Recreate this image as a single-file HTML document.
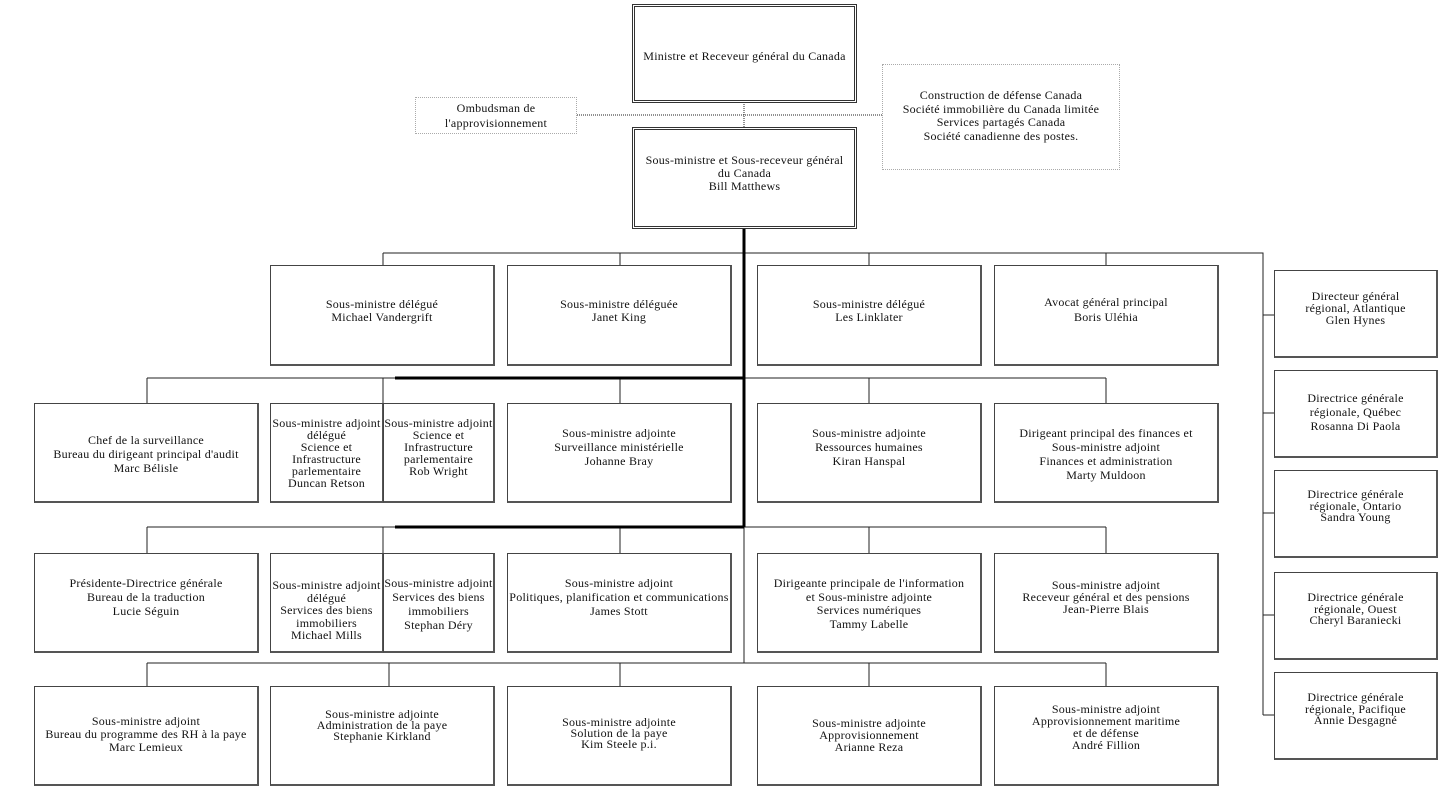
<!DOCTYPE html>
<html><head><meta charset="utf-8"><style>
body{margin:0;background:#fff;width:1455px;height:808px;position:relative;overflow:hidden;font-family:"Liberation Serif",serif;font-size:12px;letter-spacing:0.25px;color:#111}
.b{position:absolute;box-sizing:border-box;border:1px solid #444;border-right:2px solid #555;border-bottom:2px solid #555;background:#fff}
.t{position:absolute;left:-6px;right:-6px;text-align:center;line-height:13px;white-space:nowrap}
.d{position:absolute;box-sizing:border-box;border:1px dotted #aaa;background:#fff}
.dbl{position:absolute;box-sizing:border-box;border:3px double #333;background:#fff}
svg{position:absolute;left:0;top:0}
</style></head><body>
<svg width="1455" height="808">
<g stroke="#222" stroke-width="1" fill="none">
<path d="M744 102V128" stroke-dasharray="1,1"/>
<path d="M577 115H882" stroke-dasharray="1,1"/>
<path d="M383 253H1263V715"/>
<path d="M383 253V265M620 253V265M869 253V265M1106 253V265"/>
<path d="M1263 315H1275M1263 413H1275M1263 513H1275M1263 615H1275M1263 715H1275"/>
<path d="M147 378H1106M147 378V403M383 378V403M620 378V403M869 378V403M1106 378V403"/>
<path d="M147 527H1106M147 527V553M383 527V553M620 527V553M869 527V553M1106 527V553"/>
<path d="M147 663H744M147 663V686M389 663V686M620 663V686M744 663H1106M869 663V686M1106 663V686"/>
<path d="M744 527V663"/>
</g>
<g stroke="#000" stroke-width="3" fill="none">
<path d="M744 228V527"/>
<path d="M395 378H744M395 527H744"/>
</g>
</svg>

<div class="dbl" style="left:632px;top:4px;width:225px;height:99px"><div class="t" style="top:43px">Ministre et Receveur général du Canada</div></div>
<div class="dbl" style="left:632px;top:127px;width:225px;height:102px"><div class="t" style="top:24px">Sous-ministre et Sous-receveur général<br>du Canada<br>Bill Matthews</div></div>
<div class="d" style="left:415px;top:97px;width:162px;height:37px"><div class="t" style="top:3px;line-height:15px">Ombudsman de<br>l'approvisionnement</div></div>
<div class="d" style="left:882px;top:64px;width:238px;height:106px"><div class="t" style="top:24px;line-height:13.5px">Construction de défense Canada<br>Société immobilière du Canada limitée<br>Services partagés Canada<br>Société canadienne des postes.</div></div>

<!-- row1 -->
<div class="b" style="left:270px;top:265px;width:225px;height:101px"><div class="t" style="top:32px">Sous-ministre délégué<br>Michael Vandergrift</div></div>
<div class="b" style="left:507px;top:265px;width:225px;height:101px"><div class="t" style="top:32px">Sous-ministre déléguée<br>Janet King</div></div>
<div class="b" style="left:757px;top:265px;width:225px;height:101px"><div class="t" style="top:32px">Sous-ministre délégué<br>Les Linklater</div></div>
<div class="b" style="left:994px;top:265px;width:225px;height:101px"><div class="t" style="top:29px;line-height:15px">Avocat général principal<br>Boris Uléhia</div></div>

<!-- row2 -->
<div class="b" style="left:34px;top:403px;width:225px;height:100px"><div class="t" style="top:29px;line-height:14px">Chef de la surveillance<br>Bureau du dirigeant principal d'audit<br>Marc Bélisle</div></div>
<div class="b" style="left:270px;top:403px;width:114px;height:100px"><div class="t" style="top:13px;line-height:12px">Sous-ministre adjoint<br>délégué<br>Science et<br>Infrastructure<br>parlementaire<br>Duncan Retson</div></div>
<div class="b" style="left:383px;top:403px;width:112px;height:100px"><div class="t" style="top:13px;line-height:12px">Sous-ministre adjoint<br>Science et<br>Infrastructure<br>parlementaire<br>Rob Wright</div></div>
<div class="b" style="left:507px;top:403px;width:225px;height:100px"><div class="t" style="top:22px;line-height:14px">Sous-ministre adjointe<br>Surveillance ministérielle<br>Johanne Bray</div></div>
<div class="b" style="left:757px;top:403px;width:225px;height:100px"><div class="t" style="top:22px;line-height:14px">Sous-ministre adjointe<br>Ressources humaines<br>Kiran Hanspal</div></div>
<div class="b" style="left:994px;top:403px;width:225px;height:100px"><div class="t" style="top:22px;line-height:14px">Dirigeant principal des finances et<br>Sous-ministre adjoint<br>Finances et administration<br>Marty Muldoon</div></div>

<!-- row3 -->
<div class="b" style="left:34px;top:553px;width:225px;height:100px"><div class="t" style="top:22px;line-height:14px">Présidente-Directrice générale<br>Bureau de la traduction<br>Lucie Séguin</div></div>
<div class="b" style="left:270px;top:553px;width:114px;height:100px"><div class="t" style="top:25px;line-height:12.5px">Sous-ministre adjoint<br>délégué<br>Services des biens<br>immobiliers<br>Michael Mills</div></div>
<div class="b" style="left:383px;top:553px;width:112px;height:100px"><div class="t" style="top:22px;line-height:14px">Sous-ministre adjoint<br>Services des biens<br>immobiliers<br>Stephan Déry</div></div>
<div class="b" style="left:507px;top:553px;width:225px;height:100px"><div class="t" style="top:22px;line-height:14px">Sous-ministre adjoint<br>Politiques, planification et communications<br>James Stott</div></div>
<div class="b" style="left:757px;top:553px;width:225px;height:100px"><div class="t" style="top:23px;line-height:13.5px">Dirigeante principale de l'information<br>et Sous-ministre adjointe<br>Services numériques<br>Tammy Labelle</div></div>
<div class="b" style="left:994px;top:553px;width:225px;height:100px"><div class="t" style="top:25px;line-height:12px">Sous-ministre adjoint<br>Receveur général et des pensions<br>Jean-Pierre Blais</div></div>

<!-- row4 -->
<div class="b" style="left:34px;top:686px;width:225px;height:100px"><div class="t" style="top:28px;line-height:13px">Sous-ministre adjoint<br>Bureau du programme des RH à la paye<br>Marc Lemieux</div></div>
<div class="b" style="left:270px;top:686px;width:225px;height:100px"><div class="t" style="top:22px;line-height:11px">Sous-ministre adjointe<br>Administration de la paye<br>Stephanie Kirkland</div></div>
<div class="b" style="left:507px;top:686px;width:225px;height:100px"><div class="t" style="top:30px;line-height:11px">Sous-ministre adjointe<br>Solution de la paye<br>Kim Steele p.i.</div></div>
<div class="b" style="left:757px;top:686px;width:225px;height:100px"><div class="t" style="top:30px;line-height:12px">Sous-ministre adjointe<br>Approvisionnement<br>Arianne Reza</div></div>
<div class="b" style="left:994px;top:686px;width:225px;height:100px"><div class="t" style="top:16px;line-height:12px">Sous-ministre adjoint<br>Approvisionnement maritime<br>et de défense<br>André Fillion</div></div>

<!-- right column -->
<div class="b" style="left:1274px;top:270px;width:164px;height:88px"><div class="t" style="top:19px;line-height:12px">Directeur général<br>régional, Atlantique<br>Glen Hynes</div></div>
<div class="b" style="left:1274px;top:370px;width:164px;height:88px"><div class="t" style="top:20px;line-height:14px">Directrice générale<br>régionale, Québec<br>Rosanna Di Paola</div></div>
<div class="b" style="left:1274px;top:470px;width:164px;height:88px"><div class="t" style="top:18px;line-height:11.5px">Directrice générale<br>régionale, Ontario<br>Sandra Young</div></div>
<div class="b" style="left:1274px;top:572px;width:164px;height:88px"><div class="t" style="top:19px;line-height:11.5px">Directrice générale<br>régionale, Ouest<br>Cheryl Baraniecki</div></div>
<div class="b" style="left:1274px;top:672px;width:164px;height:88px"><div class="t" style="top:19px;line-height:11.5px">Directrice générale<br>régionale, Pacifique<br>Annie Desgagné</div></div>
</body></html>
